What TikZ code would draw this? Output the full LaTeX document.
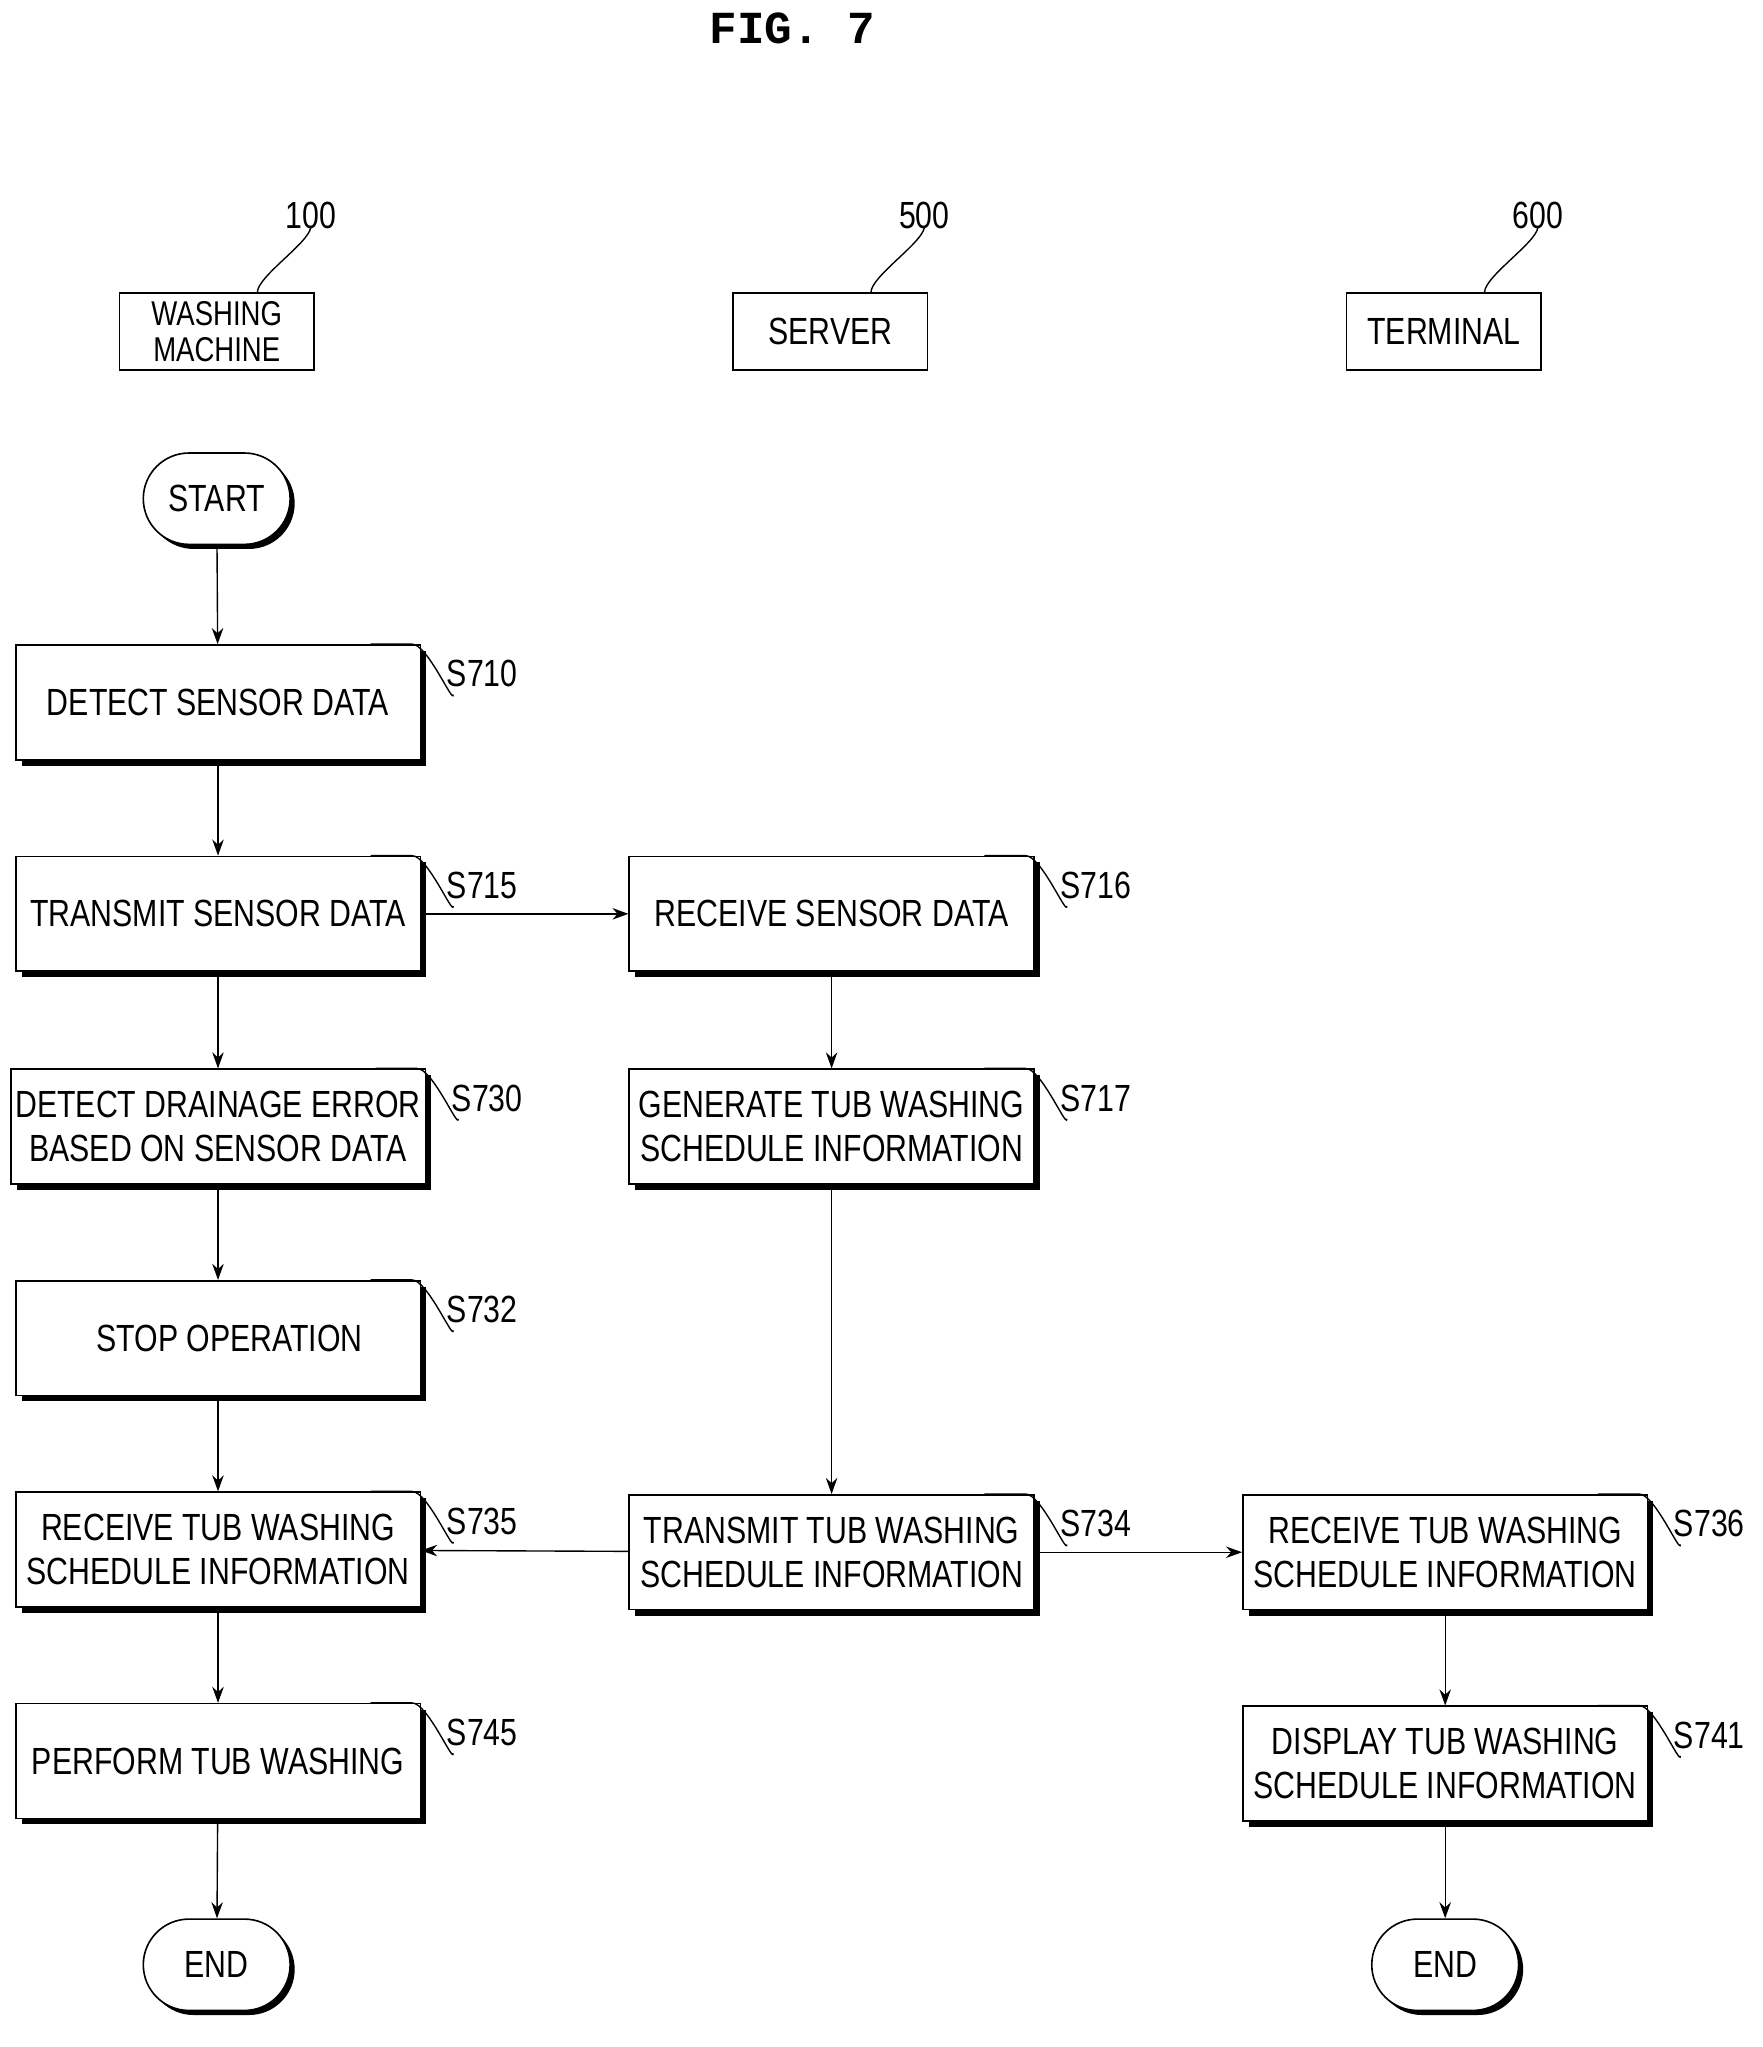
\documentclass[tikz,border=0pt]{standalone}
\usepackage{fontspec}
\setmainfont{Liberation Sans}
\newfontfamily\figfont{Liberation Sans}[FakeStretch=0.8]
\newfontfamily\titlefont{Liberation Mono}
\usetikzlibrary{arrows.meta,positioning,shadows}

\begin{document}
\begin{tikzpicture}[
    x=0.02cm, y=-0.02cm,
    every node/.style={font=\figfont\fontsize{16.5}{19}\selectfont},
    stepbox/.style={rectangle, draw, line width=0.7pt, fill=white, minimum width=6.2cm, minimum height=1.76cm, align=center, inner sep=2pt,
        drop shadow={shadow xshift=0.09cm, shadow yshift=-0.09cm, fill=black, opacity=1}},
    term/.style={rectangle, rounded corners=0.7cm, draw, line width=0.7pt, fill=white, minimum width=2.25cm, minimum height=1.4cm,
        drop shadow={shadow xshift=0.07cm, shadow yshift=-0.07cm, fill=black, opacity=1}},
    unit/.style={rectangle, draw, line width=0.7pt, minimum width=2.98cm, minimum height=1.18cm, align=center, inner sep=1pt},
    arrow/.style={-{Stealth[length=7pt,width=5pt]}, line width=0.6pt},
    lead/.style={line width=0.6pt}
]
\useasboundingbox (0,0) rectangle (1350,1568);

\node[font=\titlefont\bfseries\fontsize{20}{22}\selectfont] (title) at (607,22) {FIG. 7};

% units
\node[unit] (wm) at (166,254) {\fontsize{15}{14}\selectfont WASHING\\[-3pt]\fontsize{15}{14}\selectfont MACHINE};
\node[unit] (srv) at (636,254) {SERVER};
\node[unit] (trm) at (1106,254) {TERMINAL};
\node (n100) at (238,165) {100};
\node (n500) at (708,165) {500};
\node (n600) at (1178,165) {600};
\draw[lead] ([xshift=-25]wm.north east) .. controls +(0,-12) and +(-2,12) .. ([yshift=4]n100.south);
\draw[lead] ([xshift=-25]srv.north east) .. controls +(0,-12) and +(-2,12) .. ([yshift=4]n500.south);
\draw[lead] ([xshift=-25]trm.north east) .. controls +(0,-12) and +(-2,12) .. ([yshift=4]n600.south);

% washing machine
\node[term] (start) at (166,382) {START};
\node[stepbox] (s710) at (167,538) {DETECT SENSOR DATA};
\node[stepbox] (s715) at (167,700) {TRANSMIT SENSOR DATA};
\node[stepbox] (s730) at (167,863) {DETECT DRAINAGE ERROR\\BASED ON SENSOR DATA};
\node[stepbox] (s732) at (167,1025) {\hspace{10pt}STOP OPERATION};
\node[stepbox] (s735) at (167,1187) {RECEIVE TUB WASHING\\SCHEDULE INFORMATION};
\node[stepbox] (s745) at (167,1349) {PERFORM TUB WASHING};
\node[term] (end1) at (166,1505) {END};

% server
\node[stepbox] (s716) at (637,700) {RECEIVE SENSOR DATA};
\node[stepbox] (s717) at (637,863) {GENERATE TUB WASHING\\SCHEDULE INFORMATION};
\node[stepbox] (s734) at (637,1189) {TRANSMIT TUB WASHING\\SCHEDULE INFORMATION};

% terminal
\node[stepbox] (s736) at (1107,1189) {RECEIVE TUB WASHING\\SCHEDULE INFORMATION};
\node[stepbox] (s741) at (1107,1351) {DISPLAY TUB WASHING\\SCHEDULE INFORMATION};
\node[term] (end2) at (1107,1505) {END};

% step labels
\foreach \b/\t in {s710/S710, s715/S715, s730/S730, s732/S732, s735/S735, s745/S745,
                   s716/S716, s717/S717, s734/S734, s736/S736, s741/S741} {
    \node[anchor=south west, inner sep=1pt] (l\b) at ([xshift=10,yshift=-20]\b.north east) {\t};
    \draw[lead] ([xshift=-22]\b.north east) -- ([xshift=-4]\b.north east) .. controls +(12,0) and +(0,8) .. ([xshift=4,yshift=-2]l\b.south west);
}

% arrows
\draw[arrow] (start) -- (s710);
\draw[arrow] (s710) -- (s715);
\draw[arrow] (s715) -- (s730);
\draw[arrow] (s730) -- (s732);
\draw[arrow] (s732) -- (s735);
\draw[arrow] (s735) -- (s745);
\draw[arrow] (s745) -- (end1);
\draw[arrow] (s715) -- (s716);
\draw[arrow] (s716) -- (s717);
\draw[arrow] (s717) -- (s734);
\draw[arrow] (s734) -- (s735);
\draw[arrow] (s734) -- (s736);
\draw[arrow] (s736) -- (s741);
\draw[arrow] (s741) -- (end2);
\end{tikzpicture}
\end{document}
